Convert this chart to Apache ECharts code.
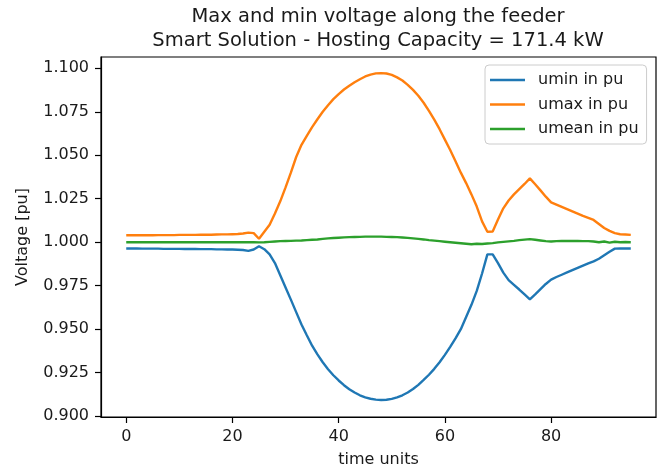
<!DOCTYPE html>
<html>
<head>
<meta charset="utf-8">
<script src="https://cdn.jsdelivr.net/npm/echarts@6/dist/echarts.min.js"></script>
<style>
html,body{margin:0;padding:0;background:#fff;}
#chart{width:662px;height:473px;}
</style>
</head>
<body>
<div id="chart"></div>
<script>
// ---- data ----
const titleText = "Max and min voltage along the feeder\nSmart Solution - Hosting Capacity = 171.4 kW";
const xTicks = [0, 20, 40, 60, 80];
const yTicks = [0.900, 0.925, 0.950, 0.975, 1.000, 1.025, 1.050, 1.075, 1.100];
const seriesNames = ["umin in pu", "umax in pu", "umean in pu"];

const umin = [
  0.9964,0.9964,0.9964,0.9963,0.9963,0.9963,0.9963,0.9962,0.9962,0.9962,
  0.9962,0.9961,0.9961,0.9961,0.9960,0.9960,0.9960,0.9959,0.9959,0.9958,
  0.9958,0.9957,0.9955,0.9950,0.9958,0.9977,0.9960,0.9930,0.9880,0.9810,
  0.9740,0.9670,0.9598,0.9527,0.9465,0.9405,0.9355,0.9310,0.9270,0.9235,
  0.9205,0.9178,0.9155,0.9136,0.9120,0.9108,0.9100,0.9095,0.9093,0.9094,
  0.9099,0.9108,0.9120,0.9136,0.9156,0.9180,0.9208,0.9238,0.9272,0.9310,
  0.9352,0.9398,0.9447,0.9500,0.9570,0.9640,0.9720,0.9820,0.9930,0.9930,
  0.9880,0.9825,0.9782,0.9755,0.9728,0.9700,0.9672,0.9700,0.9730,0.9760,
  0.9785,0.9800,0.9813,0.9826,0.9839,0.9852,0.9865,0.9878,0.9890,0.9905,
  0.9925,0.9945,0.9963,0.9964,0.9964,0.9964
];
const umax = [
  1.0040,1.0040,1.0040,1.0040,1.0040,1.0040,1.0041,1.0041,1.0041,1.0041,
  1.0042,1.0042,1.0042,1.0042,1.0043,1.0043,1.0043,1.0044,1.0045,1.0045,
  1.0046,1.0047,1.0050,1.0055,1.0052,1.0020,1.0060,1.0100,1.0165,1.0235,
  1.0315,1.0400,1.0490,1.0560,1.0612,1.0662,1.0707,1.0750,1.0788,1.0823,
  1.0852,1.0878,1.0900,1.0920,1.0937,1.0953,1.0964,1.0971,1.0972,1.0970,
  1.0962,1.0948,1.0930,1.0905,1.0876,1.0842,1.0802,1.0755,1.0705,1.0650,
  1.0590,1.0530,1.0465,1.0400,1.0340,1.0275,1.0205,1.0120,1.0060,1.0062,
  1.0130,1.0195,1.0240,1.0275,1.0305,1.0335,1.0367,1.0333,1.0298,1.0262,
  1.0229,1.0216,1.0203,1.0190,1.0177,1.0164,1.0151,1.0140,1.0128,1.0105,
  1.0082,1.0065,1.0052,1.0046,1.0044,1.0042
];
const umean = [
  1.0000,1.0000,1.0000,1.0000,1.0000,1.0000,1.0000,1.0000,1.0000,1.0000,
  1.0000,1.0000,1.0000,1.0000,1.0000,1.0000,1.0000,1.0000,1.0000,1.0000,
  1.0000,1.0000,1.0000,1.0000,1.0000,0.9999,1.0000,1.0002,1.0004,1.0006,
  1.0007,1.0008,1.0009,1.0010,1.0012,1.0014,1.0016,1.0019,1.0022,1.0024,
  1.0026,1.0028,1.0029,1.0030,1.0031,1.0032,1.0032,1.0032,1.0032,1.0031,
  1.0030,1.0029,1.0027,1.0025,1.0022,1.0019,1.0016,1.0012,1.0009,1.0006,
  1.0003,1.0000,0.9997,0.9994,0.9991,0.9988,0.9991,0.9990,0.9993,0.9995,
  0.9999,1.0002,1.0005,1.0008,1.0012,1.0015,1.0018,1.0014,1.0010,1.0006,
  1.0004,1.0006,1.0007,1.0007,1.0007,1.0007,1.0006,1.0006,1.0004,1.0000,
  1.0004,0.9998,1.0003,1.0000,1.0001,1.0000
];
const colors = ["#1f77b4", "#ff7f0e", "#2ca02c"];

// ---- chart ----
const FONT = "DejaVu Sans";
const toPairs = arr => arr.map((v, i) => [i, v]);
const chart = echarts.init(document.getElementById('chart'), null, {renderer: 'canvas'});
const allSeries = [umin, umax, umean];

chart.setOption({
  animation: false,
  backgroundColor: '#fff',
  title: {
    text: titleText,
    left: 378,
    top: 5,
    padding: 0,
    textAlign: 'center',
    textStyle: {fontFamily: FONT, fontSize: 19.5, fontWeight: 'normal', color: '#1a1a1a', lineHeight: 24}
  },
  grid: {left: 101, right: 6, top: 57, bottom: 55, show: true, borderColor: '#000', borderWidth: 1.2, backgroundColor: 'transparent'},
  legend: {
    orient: 'vertical',
    left: 485,
    top: 65,
    padding: [7, 8, 7, 5],
    itemGap: 8.5,
    itemWidth: 35,
    itemHeight: 2.6,
    icon: 'rect',
    backgroundColor: 'rgba(255,255,255,0.8)',
    borderColor: '#cccccc',
    borderWidth: 1,
    borderRadius: 4,
    textStyle: {fontFamily: FONT, fontSize: 16, color: '#1a1a1a', lineHeight: 16, padding: [0, 0, 0, 8]},
    data: seriesNames
  },
  xAxis: {
    type: 'value',
    min: -4.75,
    max: 99.75,
    name: 'time units',
    nameLocation: 'middle',
    nameGap: 35,
    nameTextStyle: {fontFamily: FONT, fontSize: 16, color: '#1a1a1a'},
    axisLine: {show: true, onZero: false, lineStyle: {color: '#000', width: 1.2}},
    axisTick: {show: true, length: 6, lineStyle: {color: '#000', width: 1.2}, customValues: xTicks},
    axisLabel: {fontFamily: FONT, fontSize: 16, color: '#1a1a1a', margin: 12, customValues: xTicks, formatter: v => String(v)},
    splitLine: {show: false}
  },
  yAxis: {
    type: 'value',
    min: 0.8995,
    max: 1.1065,
    name: 'Voltage [pu]',
    nameLocation: 'middle',
    nameGap: 70,
    nameTextStyle: {fontFamily: FONT, fontSize: 16, color: '#1a1a1a'},
    axisLine: {show: true, onZero: false, lineStyle: {color: '#000', width: 1.2}},
    axisTick: {show: true, length: 6, lineStyle: {color: '#000', width: 1.2}, customValues: yTicks},
    axisLabel: {fontFamily: FONT, fontSize: 16, color: '#1a1a1a', margin: 12, customValues: yTicks, formatter: v => v.toFixed(3)},
    splitLine: {show: false}
  },
  series: allSeries.map((arr, k) => ({
    name: seriesNames[k],
    type: 'line',
    data: toPairs(arr),
    showSymbol: false,
    symbol: 'none',
    smooth: false,
    color: colors[k],
    lineStyle: {width: 2.4, color: colors[k]},
    itemStyle: {color: colors[k]}
  }))
});
</script>
</body>
</html>
